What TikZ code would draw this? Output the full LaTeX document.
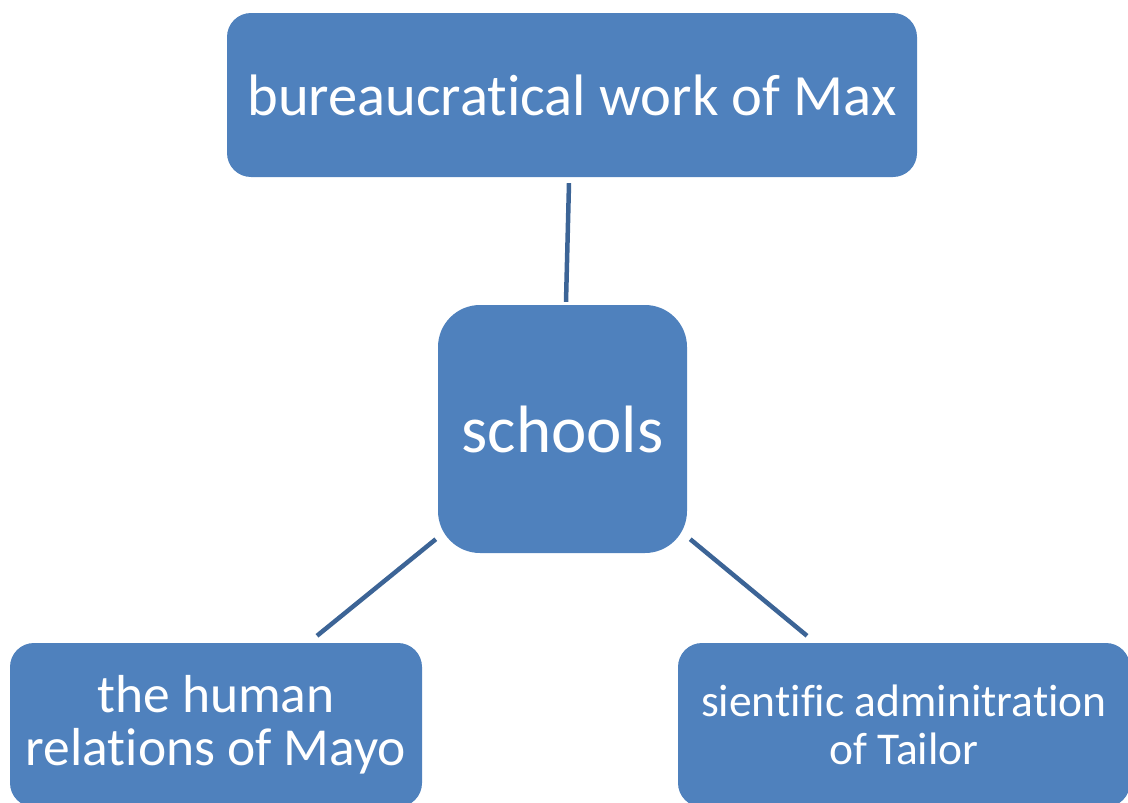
\documentclass[tikz,border=0pt]{standalone}
\usepackage{fontspec}
\setmainfont[Ligatures=NoCommon]{Carlito}
\usetikzlibrary{positioning}
\definecolor{boxblue}{RGB}{79,129,189}
\definecolor{linkblue}{RGB}{60,100,150}

\begin{document}
\begin{tikzpicture}[x=1pt, y=-1pt,
    topic/.style={fill=boxblue, text=white, rounded corners=24pt, align=center, inner sep=0pt},
    link/.style={draw=linkblue, line width=4.5pt}]
    \useasboundingbox (0,0) rectangle (1128,803);
    \clip (0,0) rectangle (1128,803);
    \node[topic, minimum width=690pt, minimum height=164pt, font=\fontsize{58.5}{62}\selectfont] (max) at (572,95) {bureaucratical work of Max};
    \node[topic, minimum width=249pt, minimum height=248pt, rounded corners=42pt, font=\fontsize{67}{70}\selectfont] (schools) at (562.5,429) {schools};
    \node[topic, minimum width=412pt, minimum height=164pt, font=\fontsize{53.5}{53}\selectfont] (mayo) at (216,725) {the human\\relations of Mayo};
    \node[topic, minimum width=452pt, minimum height=164pt, font=\fontsize{45.5}{48}\selectfont] (tailor) at (904,725) {sientific adminitration\\of Tailor};
    \path[link] ([shift={(-3pt,-6pt)}]max.south) -- ([shift={(3.5pt,3pt)}]schools.north)
          ([shift={(-2pt,14pt)}]schools.south west) -- ([shift={(101pt,7pt)}]mayo.north)
          ([shift={(3pt,14pt)}]schools.south east) -- ([shift={(-97pt,7pt)}]tailor.north);
\end{tikzpicture}
\end{document}
